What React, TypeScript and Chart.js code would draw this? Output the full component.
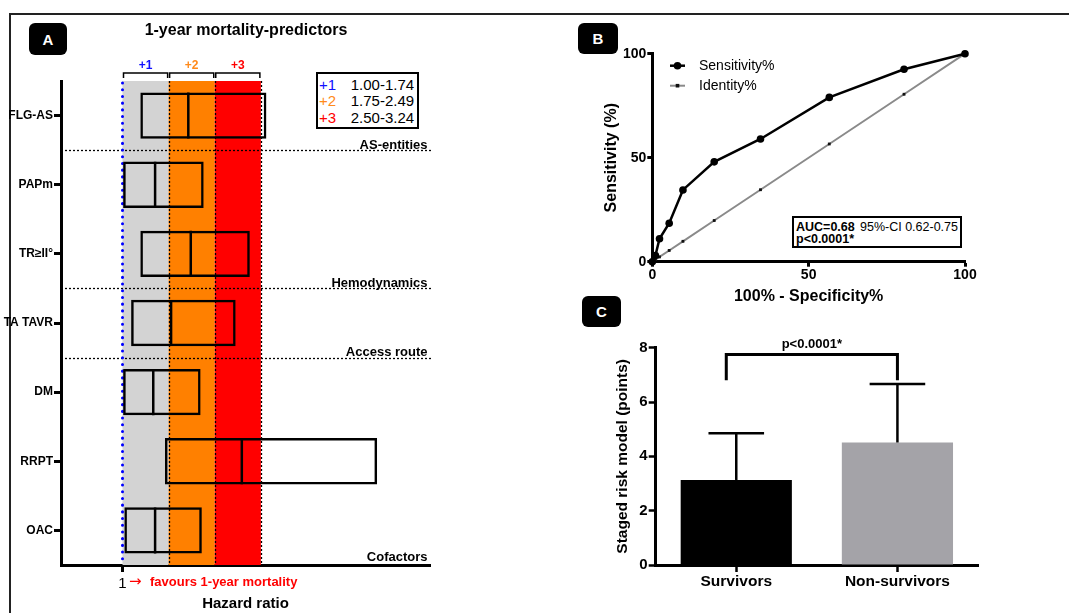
import React, { useEffect, useRef } from 'react';
import { Chart, registerables } from 'chart.js';

Chart.register(...registerables);

const FONT = "'Liberation Sans', Arial, Helvetica, sans-serif";
Chart.defaults.font.family = FONT;
Chart.defaults.color = '#000';

// ---------- Panel A: 1-year mortality predictors ----------
const PREDICTORS = ['FLG-AS', 'PAPm', 'TR≥II°', 'TA TAVR', 'DM', 'RRPT', 'OAC'];
const HR_POINT = [2.07, 1.53, 2.11, 1.79, 1.5, 2.94, 1.53];
const HR_LOW = [1.29, 1.01, 1.29, 1.14, 1.01, 1.69, 1.03];
const HR_HIGH = [3.34, 2.32, 3.07, 2.84, 2.27, 5.14, 2.29];
const HR_TICKS = [1];
const SCORE_EDGES = [1.0, 1.75, 2.5, 3.25];
const SCORE_LABELS = ['+1', '+2', '+3'];
const SCORE_RANGES = ['1.00-1.74', '1.75-2.49', '2.50-3.24'];
const SCORE_TEXT_COLORS = ['#1010ff', '#ff8a1a', '#ff0000'];
const BAND_FILLS = ['#d3d3d3', '#ff8000', '#ff0000'];
const SECTION_NAMES = ['AS-entities', 'Hemodynamics', 'Access route', 'Cofactors'];
const SECTION_LAST_INDEX = [0, 2, 3, 6];

// ---------- Panel B: ROC ----------
const FPR = [0, 1, 2.3, 5.4, 9.8, 19.8, 34.6, 56.6, 80.5, 100];
const SENSITIVITY = [0, 3, 11, 18.5, 34.5, 48, 59, 79, 92.5, 100];
const ROC_TICKS = [0, 50, 100];

// ---------- Panel C: staged risk model ----------
const GROUPS = ['Survivors', 'Non-survivors'];
const MEAN_POINTS = [3.13, 4.51];
const SD_POINTS = [1.72, 2.15];
const C_TICKS = [0, 2, 4, 6, 8];
const BRACKET_LEVEL = 7.75;
const BRACKET_DROP = 6.8;

function seg(ctx: any, x0: number, y0: number, x1: number, y1: number) {
  ctx.beginPath();
  ctx.moveTo(x0, y0);
  ctx.lineTo(x1, y1);
  ctx.stroke();
}

function noHPad(s: any) {
  s.paddingLeft = 0;
  s.paddingRight = 0;
}

function PanelA() {
  const ref = useRef<HTMLCanvasElement>(null);
  useEffect(() => {
    const decor = {
      id: 'panelADecor',
      beforeDatasetsDraw(chart: any) {
        const { ctx, chartArea: ca, scales } = chart;
        const x = scales.x;
        const y = scales.y;
        ctx.save();
        for (let i = 0; i < BAND_FILLS.length; i++) {
          const x0 = x.getPixelForValue(SCORE_EDGES[i]);
          const x1 = x.getPixelForValue(SCORE_EDGES[i + 1]);
          ctx.fillStyle = BAND_FILLS[i];
          ctx.fillRect(x0, ca.top, x1 - x0, ca.bottom - ca.top);
        }
        ctx.strokeStyle = '#000';
        ctx.lineWidth = 1.3;
        ctx.setLineDash([2, 2]);
        for (let i = 1; i < SCORE_EDGES.length; i++) {
          const px = Math.round(x.getPixelForValue(SCORE_EDGES[i])) + 0.5;
          seg(ctx, px, ca.top, px, ca.bottom);
        }
        for (let k = 0; k < SECTION_LAST_INDEX.length - 1; k++) {
          const idx = SECTION_LAST_INDEX[k];
          const py = Math.round((y.getPixelForValue(idx) + y.getPixelForValue(idx + 1)) / 2) + 0.5;
          seg(ctx, ca.left + 4, py, ca.right + 1, py);
        }
        const p1 = x.getPixelForValue(HR_TICKS[0]);
        ctx.strokeStyle = '#0000ff';
        ctx.lineWidth = 3;
        ctx.lineCap = 'round';
        ctx.setLineDash([0.1, 6.6]);
        seg(ctx, p1, ca.top + 2, p1, ca.bottom);
        ctx.restore();
      },
      afterDraw(chart: any) {
        const { ctx, chartArea: ca, scales } = chart;
        const x = scales.x;
        const y = scales.y;
        ctx.save();
        ctx.font = `bold 13px ${FONT}`;
        ctx.fillStyle = '#000';
        ctx.textAlign = 'right';
        ctx.textBaseline = 'alphabetic';
        SECTION_LAST_INDEX.forEach((idx, k) => {
          let py;
          if (k < SECTION_LAST_INDEX.length - 1) {
            py = (y.getPixelForValue(idx) + y.getPixelForValue(idx + 1)) / 2 - 1.5;
          } else {
            py = ca.bottom - 4.5;
          }
          ctx.fillText(SECTION_NAMES[k], ca.right - 2.5, py);
        });
        ctx.strokeStyle = '#000';
        ctx.lineWidth = 1.5;
        ctx.textAlign = 'center';
        ctx.textBaseline = 'middle';
        ctx.font = `bold 12px ${FONT}`;
        for (let i = 0; i < SCORE_LABELS.length; i++) {
          const x0 = x.getPixelForValue(SCORE_EDGES[i]) + 1;
          const x1 = x.getPixelForValue(SCORE_EDGES[i + 1]) - 1;
          ctx.beginPath();
          ctx.moveTo(x0, ca.top - 3);
          ctx.lineTo(x0, ca.top - 8);
          ctx.lineTo(x1, ca.top - 8);
          ctx.lineTo(x1, ca.top - 3);
          ctx.stroke();
          ctx.fillStyle = SCORE_TEXT_COLORS[i];
          ctx.fillText(SCORE_LABELS[i], (x0 + x1) / 2, ca.top - 15);
        }
        const p1 = x.getPixelForValue(HR_TICKS[0]);
        ctx.fillStyle = '#ff0000';
        ctx.textAlign = 'left';
        ctx.font = `15px 'DejaVu Sans', ${FONT}`;
        ctx.fillText('→', p1 + 6.5, ca.bottom + 17);
        ctx.font = `bold 13px ${FONT}`;
        ctx.fillText('favours 1-year mortality', p1 + 27.5, ca.bottom + 17);
        ctx.restore();
      },
    };

    const chart = new Chart(ref.current as HTMLCanvasElement, {
      type: 'bar',
      data: {
        labels: PREDICTORS,
        datasets: [
          {
            type: 'bar',
            label: '95%-CI',
            data: PREDICTORS.map((_, i) => [HR_LOW[i], HR_HIGH[i]]),
            backgroundColor: 'rgba(0,0,0,0)',
            borderColor: '#000',
            borderWidth: 2.5,
            borderSkipped: false,
            barPercentage: 0.67,
            categoryPercentage: 1,
          } as any,
          {
            type: 'line',
            label: 'Hazard ratio',
            data: PREDICTORS.map((p, i) => ({ x: HR_POINT[i], y: p })),
            showLine: false,
            pointStyle: 'line',
            pointRotation: 90,
            pointRadius: 23,
            pointBorderColor: '#000',
            pointBorderWidth: 2.5,
          } as any,
        ],
      },
      options: {
        indexAxis: 'y',
        responsive: false,
        maintainAspectRatio: false,
        animation: false,
        events: [],
        layout: { autoPadding: false, padding: { left: 0, top: 81, right: 10, bottom: 0 } },
        plugins: { legend: { display: false }, tooltip: { enabled: false } },
        scales: {
          x: {
            type: 'linear',
            position: 'bottom',
            min: 0,
            max: 6,
            z: 1,
            afterBuildTicks: (s: any) => {
              s.ticks = HR_TICKS.map((v) => ({ value: v }));
            },
            afterFit: (s: any) => {
              s.height = 48;
              noHPad(s);
            },
            ticks: { font: { size: 15 }, padding: 3 },
            grid: { drawOnChartArea: false, tickLength: 7, tickWidth: 3, tickColor: '#000' },
            border: { width: 3, color: '#000' },
            title: {
              display: true,
              text: 'Hazard ratio',
              font: { size: 15, weight: 'bold' },
              padding: { top: 0, bottom: 0.5 },
            },
          },
          y: {
            type: 'category',
            position: 'left',
            offset: true,
            z: 1,
            afterFit: (s: any) => {
              s.width = 61;
            },
            ticks: { font: { size: 12, weight: 'bold' }, padding: 1 },
            grid: { offset: false, drawOnChartArea: false, tickLength: 7, tickWidth: 3, tickColor: '#000' },
            border: { width: 3, color: '#000' },
          },
        },
      } as any,
      plugins: [decor],
    } as any);
    return () => chart.destroy();
  }, []);
  return <canvas ref={ref} width={440} height={613} style={{ position: 'absolute', left: 0, top: 0 }} />;
}

function PanelB() {
  const ref = useRef<HTMLCanvasElement>(null);
  useEffect(() => {
    const legend = {
      id: 'rocLegend',
      afterDraw(chart: any) {
        const { ctx } = chart;
        ctx.save();
        chart.data.datasets.forEach((ds: any, i: number) => {
          const yy = 45.7 + i * 20;
          ctx.strokeStyle = ds.borderColor;
          ctx.lineWidth = ds.borderWidth;
          seg(ctx, 110, yy, 125, yy);
          ctx.fillStyle = ds.pointBackgroundColor;
          if (ds.pointStyle === 'rect') {
            ctx.fillRect(117.5 - 1.8, yy - 1.8, 3.6, 3.6);
          } else {
            ctx.beginPath();
            ctx.arc(117.5, yy, ds.pointRadius, 0, Math.PI * 2);
            ctx.fill();
          }
          ctx.fillStyle = '#000';
          ctx.font = `14px ${FONT}`;
          ctx.textAlign = 'left';
          ctx.textBaseline = 'middle';
          ctx.fillText(ds.label, 139, yy + 0.5);
        });
        ctx.restore();
      },
    };
    const chart = new Chart(ref.current as HTMLCanvasElement, {
      type: 'line',
      data: {
        datasets: [
          {
            label: 'Sensitivity%',
            data: FPR.map((v, i) => ({ x: v, y: SENSITIVITY[i] })),
            borderColor: '#000',
            borderWidth: 2.5,
            pointStyle: 'circle',
            pointRadius: 3.8,
            pointBackgroundColor: '#000',
            pointBorderColor: '#000',
            pointBorderWidth: 0,
            clip: false,
          },
          {
            label: 'Identity%',
            data: FPR.map((v) => ({ x: v, y: v })),
            borderColor: '#8a8a8a',
            borderWidth: 2,
            pointStyle: 'rect',
            pointRadius: 2,
            pointBackgroundColor: '#111',
            pointBorderColor: '#111',
            pointBorderWidth: 0,
            clip: false,
          },
        ],
      },
      options: {
        responsive: false,
        maintainAspectRatio: false,
        animation: false,
        events: [],
        layout: { autoPadding: false, padding: { left: 0, top: 33.7, right: 35, bottom: 0 } },
        plugins: { legend: { display: false }, tooltip: { enabled: false } },
        scales: {
          x: {
            type: 'linear',
            min: 0,
            max: 100,
            afterBuildTicks: (s: any) => {
              s.ticks = ROC_TICKS.map((v) => ({ value: v }));
            },
            afterFit: (s: any) => {
              s.height = 48.3;
              noHPad(s);
            },
            ticks: { font: { size: 14, weight: 'bold' }, padding: 0 },
            grid: { drawOnChartArea: false, tickLength: 5, tickWidth: 3, tickColor: '#000' },
            border: { width: 3, color: '#000' },
            title: {
              display: true,
              text: '100% - Specificity%',
              font: { size: 16, weight: 'bold' },
              padding: { top: 0, bottom: 3.4 },
            },
          },
          y: {
            type: 'linear',
            min: 0,
            max: 100,
            afterBuildTicks: (s: any) => {
              s.ticks = ROC_TICKS.map((v) => ({ value: v }));
            },
            afterFit: (s: any) => {
              s.width = 92.3;
            },
            ticks: { font: { size: 14, weight: 'bold' }, padding: 1 },
            grid: { drawOnChartArea: false, tickLength: 5, tickWidth: 3, tickColor: '#000' },
            border: { width: 3, color: '#000' },
            title: {
              display: true,
              text: 'Sensitivity (%)',
              font: { size: 16, weight: 'bold' },
              padding: { top: 42.1, bottom: 0 },
            },
          },
        },
      } as any,
      plugins: [legend],
    } as any);
    return () => chart.destroy();
  }, []);
  return <canvas ref={ref} width={440} height={290} style={{ position: 'absolute', left: 560, top: 20 }} />;
}

function PanelC() {
  const ref = useRef<HTMLCanvasElement>(null);
  useEffect(() => {
    const errs = {
      id: 'errorBars',
      afterDatasetsDraw(chart: any) {
        const { ctx, scales } = chart;
        const y = scales.y;
        const meta = chart.getDatasetMeta(0);
        ctx.save();
        ctx.strokeStyle = '#000';
        ctx.lineWidth = 2.5;
        meta.data.forEach((bar: any, i: number) => {
          const top = y.getPixelForValue(MEAN_POINTS[i] + SD_POINTS[i]);
          const base = y.getPixelForValue(MEAN_POINTS[i]);
          const half = bar.width / 4;
          seg(ctx, bar.x, base, bar.x, top);
          seg(ctx, bar.x - half, top, bar.x + half, top);
        });
        const yb = y.getPixelForValue(BRACKET_LEVEL);
        const yd = y.getPixelForValue(BRACKET_DROP);
        const x0 = meta.data[0].x - 10;
        const x1 = meta.data[1].x;
        ctx.lineWidth = 3;
        ctx.beginPath();
        ctx.moveTo(x0, yd);
        ctx.lineTo(x0, yb);
        ctx.lineTo(x1, yb);
        ctx.lineTo(x1, yd);
        ctx.stroke();
        ctx.fillStyle = '#000';
        ctx.font = `bold 13px ${FONT}`;
        ctx.textAlign = 'center';
        ctx.textBaseline = 'middle';
        ctx.fillText('p<0.0001*', (x0 + x1) / 2, yb - 10);
        ctx.restore();
      },
    };
    const chart = new Chart(ref.current as HTMLCanvasElement, {
      type: 'bar',
      data: {
        labels: GROUPS,
        datasets: [
          {
            label: 'Staged risk model (points)',
            data: MEAN_POINTS,
            backgroundColor: ['#000000', '#a4a3a8'],
            borderWidth: 0,
            barPercentage: 0.69,
            categoryPercentage: 1,
          },
        ],
      },
      options: {
        responsive: false,
        maintainAspectRatio: false,
        animation: false,
        events: [],
        layout: { autoPadding: false, padding: { left: 0, top: 57.7, right: 22, bottom: 0 } },
        plugins: { legend: { display: false }, tooltip: { enabled: false } },
        scales: {
          x: {
            type: 'category',
            offset: true,
            afterFit: (s: any) => {
              s.height = 48;
              noHPad(s);
            },
            ticks: { font: { size: 15.5, weight: 'bold' }, padding: 0 },
            grid: { offset: false, drawOnChartArea: false, tickLength: 7, tickWidth: 2.5, tickColor: '#000' },
            border: { width: 3, color: '#000' },
          },
          y: {
            type: 'linear',
            min: 0,
            max: 8,
            afterBuildTicks: (s: any) => {
              s.ticks = C_TICKS.map((v) => ({ value: v }));
            },
            afterFit: (s: any) => {
              s.width = 95.7;
            },
            ticks: { font: { size: 15, weight: 'bold' }, padding: 1 },
            grid: { drawOnChartArea: false, tickLength: 7, tickWidth: 2.5, tickColor: '#000' },
            border: { width: 3, color: '#000' },
            title: {
              display: true,
              text: 'Staged risk model (points)',
              font: { size: 15.5, weight: 'bold' },
              padding: { top: 53.2, bottom: 0 },
            },
          },
        },
      } as any,
      plugins: [errs],
    } as any);
    return () => chart.destroy();
  }, []);
  return <canvas ref={ref} width={440} height={323} style={{ position: 'absolute', left: 560, top: 290 }} />;
}

function Badge({ text, left, top, w, h }: any) {
  return (
    <div
      style={{
        position: 'absolute',
        left,
        top,
        width: w,
        height: h,
        background: '#000',
        borderRadius: 6,
        color: '#fff',
        fontWeight: 'bold',
        fontSize: 15,
        display: 'flex',
        alignItems: 'center',
        justifyContent: 'center',
      }}
    >
      {text}
    </div>
  );
}

const ROW_TOPS = [1.5, 17.5, 35.2];

export default function App() {
  return (
    <div
      style={{
        position: 'fixed',
        left: 0,
        top: 0,
        width: 1069,
        height: 613,
        background: '#fff',
        overflow: 'hidden',
        fontFamily: FONT,
        color: '#000',
      }}
    >
      <div
        style={{
          position: 'absolute',
          left: 9,
          top: 13,
          right: 0,
          bottom: -5,
          borderTop: '2px solid #222',
          borderLeft: '2px solid #222',
        }}
      />
      <PanelA />
      <PanelB />
      <PanelC />
      <Badge text="A" left={29} top={23} w={38} h={32} />
      <Badge text="B" left={578} top={23} w={40} h={31} />
      <Badge text="C" left={582} top={296} w={39} h={31} />
      <div
        style={{
          position: 'absolute',
          left: 46,
          top: 21,
          width: 400,
          textAlign: 'center',
          fontWeight: 'bold',
          fontSize: 16,
          lineHeight: '18px',
        }}
      >
        1-year mortality-predictors
      </div>
      <div
        style={{
          position: 'absolute',
          left: 316,
          top: 72,
          width: 103,
          height: 57,
          boxSizing: 'border-box',
          border: '2px solid #000',
          background: '#fff',
        }}
      >
        {SCORE_LABELS.map((lab, i) => (
          <React.Fragment key={lab}>
            <span
              style={{
                position: 'absolute',
                left: 1,
                top: ROW_TOPS[i],
                fontSize: 15,
                lineHeight: '17px',
                color: SCORE_TEXT_COLORS[i],
              }}
            >
              {lab}
            </span>
            <span
              style={{
                position: 'absolute',
                left: 32.7,
                top: ROW_TOPS[i],
                fontSize: 15,
                lineHeight: '17px',
              }}
            >
              {SCORE_RANGES[i]}
            </span>
          </React.Fragment>
        ))}
      </div>
      <div
        style={{
          position: 'absolute',
          left: 792,
          top: 215.5,
          width: 170,
          height: 32,
          boxSizing: 'border-box',
          border: '2px solid #000',
          background: '#fff',
          fontSize: 12.5,
          lineHeight: '14px',
          whiteSpace: 'nowrap',
        }}
      >
        <span style={{ position: 'absolute', left: 2, top: 2.2, fontWeight: 'bold' }}>AUC=0.68</span>
        <span style={{ position: 'absolute', left: 66, top: 2.2 }}>95%-CI 0.62-0.75</span>
        <span style={{ position: 'absolute', left: 2, top: 14.8, fontWeight: 'bold' }}>p&lt;0.0001*</span>
      </div>
    </div>
  );
}
